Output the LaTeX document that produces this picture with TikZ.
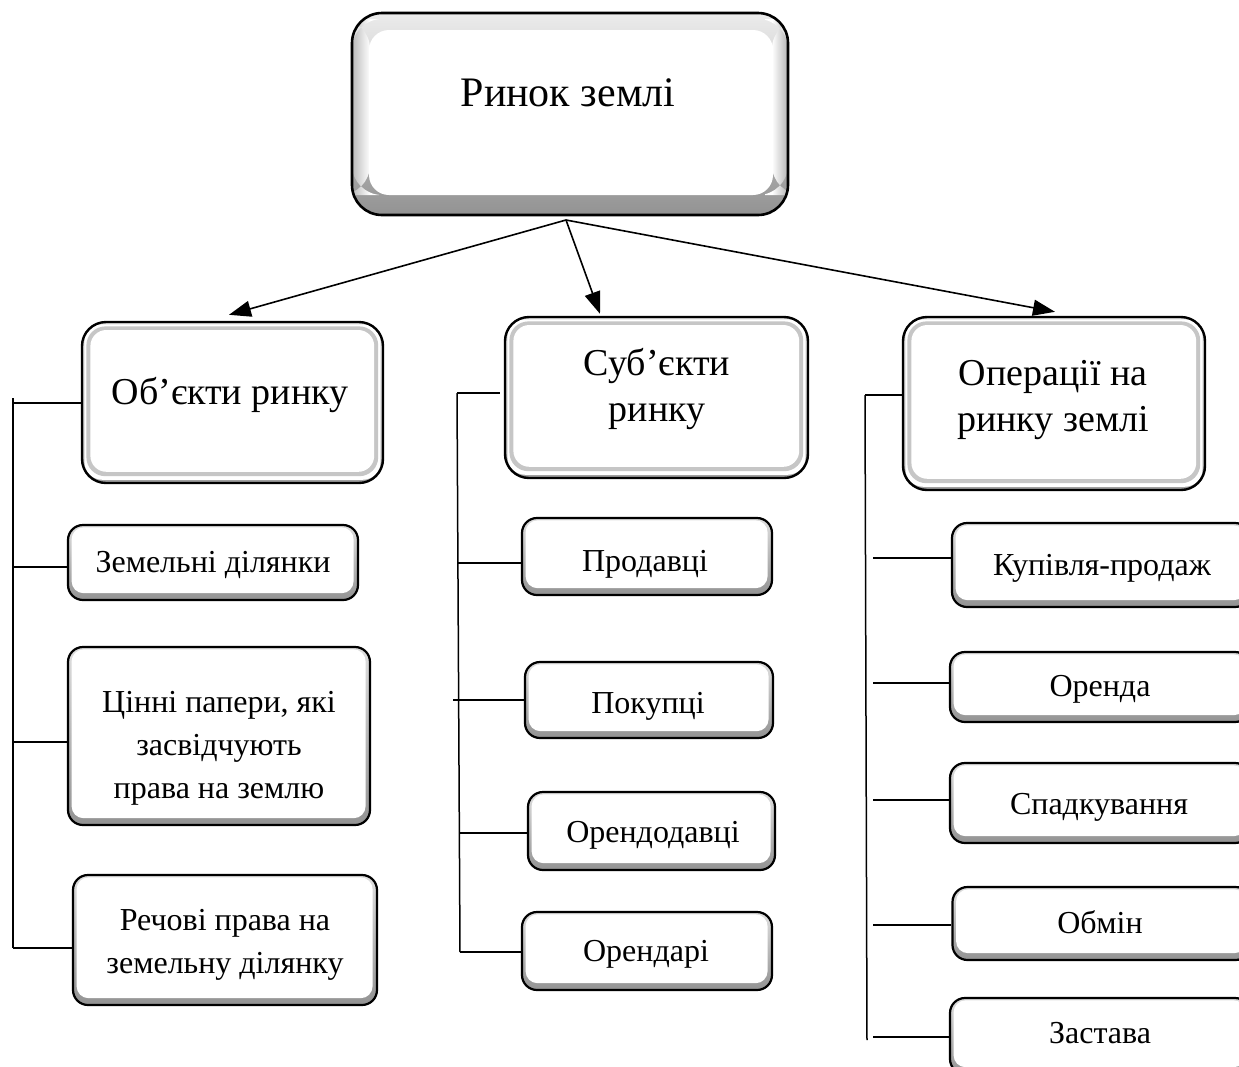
\documentclass[tikz,border=0pt]{standalone}
\usepackage{fontspec}
\setmainfont{Liberation Serif}
\usetikzlibrary{arrows.meta,calc}
\newcommand{\subfnt}{\fontsize{16}{21.5}\selectfont}
\newcommand{\headfnt}{\fontsize{19}{23}\selectfont}
\newcommand{\titlefnt}{\fontsize{21}{25}\selectfont}
\tikzset{
  smallbox/.style={draw=black, line width=1.1pt, inner sep=0pt, rounded corners=7.5pt,
    path picture={
      \shade[top color=gray!25, bottom color=gray!85]
        (path picture bounding box.south west) rectangle (path picture bounding box.north east);
      \fill[white, rounded corners=6pt]
        ([shift={(1.8pt,-1.2pt)}]path picture bounding box.north west) rectangle
        ([shift={(-2.2pt,3.4pt)}]path picture bounding box.south east);
    }},
  headbox/.style={draw=black, line width=1.2pt, inner sep=0pt, rounded corners=12pt,
    path picture={
      \shade[top color=gray!30, bottom color=gray!75]
        (path picture bounding box.south west) rectangle (path picture bounding box.north east);
      \fill[white, rounded corners=9pt]
        ([shift={(1.2pt,-1.2pt)}]path picture bounding box.north west) rectangle
        ([shift={(-1.2pt,1.6pt)}]path picture bounding box.south east);
      \fill[gray!45, rounded corners=9.5pt]
        ([shift={(2.2pt,-2.2pt)}]path picture bounding box.north west) rectangle
        ([shift={(-2.4pt,3.4pt)}]path picture bounding box.south east);
      \fill[white, rounded corners=8pt]
        ([shift={(4.2pt,-4pt)}]path picture bounding box.north west) rectangle
        ([shift={(-4.4pt,5.6pt)}]path picture bounding box.south east);
    }},
  topbox/.style={draw=black, line width=1.3pt, inner sep=0pt, rounded corners=15pt,
    path picture={
      \shade[top color=gray!15, bottom color=gray!85]
        (path picture bounding box.south west) rectangle (path picture bounding box.north east);
      \shade[left color=gray!55, right color=white]
        ([shift={(0pt,-3pt)}]path picture bounding box.north west) rectangle
        ([shift={(9pt,10pt)}]path picture bounding box.south west);
      \shade[right color=gray!60, left color=white]
        ([shift={(-8pt,-3pt)}]path picture bounding box.north east) rectangle
        ([shift={(0pt,10pt)}]path picture bounding box.south east);
      \fill[white, rounded corners=10pt]
        ([shift={(8.5pt,-8.5pt)}]path picture bounding box.north west) rectangle
        ([shift={(-7.5pt,10pt)}]path picture bounding box.south east);
    }},
  conn/.style={draw=black, line width=0.75pt},
  arr/.style={draw=black, line width=0.8pt, -{Triangle[length=11pt,width=8pt]}},
  titletxt/.style={font=\titlefnt, align=center, inner sep=0pt},
  headtxt/.style={font=\headfnt, align=center, inner sep=0pt},
  stxt/.style={font=\subfnt, inner sep=0pt, text height=0.9em, text depth=0.09em},
  mtxt/.style={font=\subfnt, align=center, inner sep=0pt}
}
\begin{document}
\begin{tikzpicture}[x=0.5pt,y=-0.5pt]
\useasboundingbox (0,0) rectangle (1239,1067);
\clip (0,0) rectangle (1239,1067);
\fill[white] (0,0) rectangle (1239,1067);

% top box
\node[topbox, minimum width=218pt, minimum height=101pt] (top) at (570,114) {};
\node[titletxt] (toptext) at (568,93) {Ринок землі};

% header boxes
\node[headbox, minimum width=150.5pt, minimum height=80.5pt] (h1) at (232.5,402.5) {};
\node[headtxt] (t1) at (230,395) {Об’єкти ринку};
\node[headbox, minimum width=151.5pt, minimum height=80.5pt] (h2) at (656.5,397.5) {};
\node[headtxt] (t2) at (657,389) {Суб’єкти\\ринку};
\node[headbox, minimum width=151pt, minimum height=86.5pt] (h3) at (1054,403.5) {};
\node[headtxt] (t3) at (1053,400) {Операції на\\ринку землі};

% left column
\node[smallbox, minimum width=145pt, minimum height=37.5pt] (l1) at (213,562.5) {};
\node[stxt] (l1t) at (213,564) {Земельні ділянки};
\node[smallbox, minimum width=151pt, minimum height=89pt] (l2) at (219,736) {};
\node[mtxt] (l2t) at (219,748) {Цінні папери, які\\засвідчують\\права на землю};
\node[smallbox, minimum width=152pt, minimum height=65pt] (l3) at (225,940) {};
\node[mtxt] (l3t) at (225,944.5) {Речові права на\\земельну ділянку};

% middle column
\node[smallbox, minimum width=125pt, minimum height=38.5pt] (m1) at (647,556.5) {};
\node[stxt] (m1t) at (645,563) {Продавці};
\node[smallbox, minimum width=124pt, minimum height=38pt] (m2) at (649,700) {};
\node[stxt] (m2t) at (648,705) {Покупці};
\node[smallbox, minimum width=123.5pt, minimum height=39pt] (m3) at (651.5,831) {};
\node[stxt] (m3t) at (653,834) {Орендодавці};
\node[smallbox, minimum width=125pt, minimum height=39pt] (m4) at (647,951) {};
\node[stxt] (m4t) at (646,953) {Орендарі};

% right column
\node[smallbox, minimum width=149pt, minimum height=42pt] (r1) at (1101,565) {};
\node[stxt] (r1t) at (1102,567) {Купівля-продаж};
\node[smallbox, minimum width=150pt, minimum height=35pt] (r2) at (1100,687) {};
\node[stxt] (r2t) at (1100,688) {Оренда};
\node[smallbox, minimum width=150pt, minimum height=40pt] (r3) at (1100,803) {};
\node[stxt] (r3t) at (1099,806) {Спадкування};
\node[smallbox, minimum width=149pt, minimum height=36.5pt] (r4) at (1101.5,923.5) {};
\node[stxt] (r4t) at (1100,925) {Обмін};
\node[smallbox, minimum width=150pt, minimum height=38pt] (r5) at (1100,1036) {};
\node[stxt] (r5t) at (1100,1035) {Застава};

% arrows from top box
\coordinate (src) at (566,220);
\draw[arr] (src) -- ($(h1.north)+(-3.5,-6)$);
\draw[arr] (src) -- ($(h2.north)+(-56.5,-2)$);
\draw[arr] (src) -- ($(h3.north)+(1,-4)$);

% left bracket
\coordinate (lt) at (13,398);
\coordinate (lb) at (13,948);
\draw[conn] (lt) -- (lb);
\coordinate (la) at (13,403);
\coordinate (lc) at (13,567);
\coordinate (ld) at (13,742);
\draw[conn] (la) -- (la -| h1.west);
\draw[conn] (lc) -- (lc -| l1.west);
\draw[conn] (ld) -- (ld -| l2.west);
\draw[conn] (lb) -- (lb -| l3.west);

% middle bracket
\coordinate (mt) at (457,393);
\coordinate (mb) at (460,952);
\draw[conn] (mt) -- (mb);
\coordinate (mc) at (458,563);
\coordinate (md) at (453,700);
\coordinate (me) at (460,833);
\draw[conn] (mt) -- ($(mt -| h2.west)+(-4,0)$);
\draw[conn] (mc) -- (mc -| m1.west);
\draw[conn] (md) -- (md -| m2.west);
\draw[conn] (me) -- (me -| m3.west);
\draw[conn] (mb) -- (mb -| m4.west);

% right bracket
\coordinate (rt) at (865,395);
\coordinate (rb) at (867,1040);
\draw[conn] (rt) -- (rb);
\draw[conn] (rt) -- (rt -| h3.west);
\coordinate (ra) at (873,558);
\coordinate (rc) at (873,683);
\coordinate (rd) at (873,800);
\coordinate (re) at (873,925);
\coordinate (rf) at (873,1037);
\draw[conn] (ra) -- (ra -| r1.west);
\draw[conn] (rc) -- (rc -| r2.west);
\draw[conn] (rd) -- (rd -| r3.west);
\draw[conn] (re) -- (re -| r4.west);
\draw[conn] (rf) -- (rf -| r5.west);
\end{tikzpicture}
\end{document}
